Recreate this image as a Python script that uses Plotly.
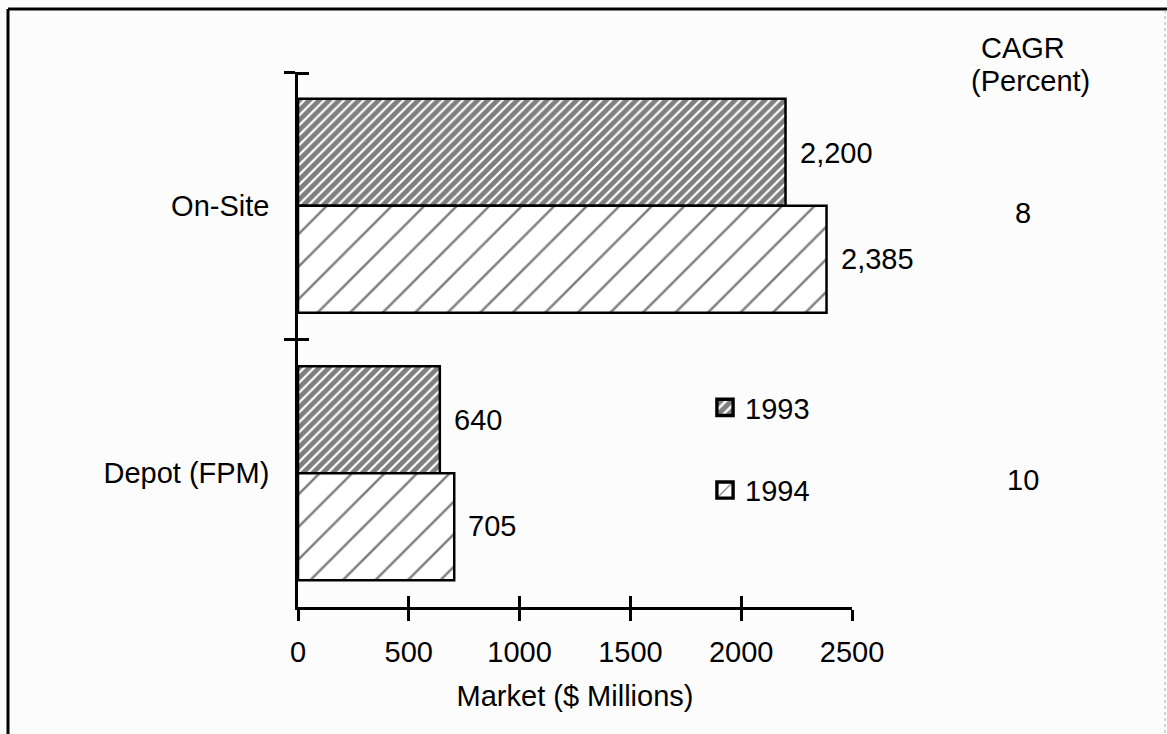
import plotly.graph_objects as go

# ---- data ----
categories = ["On-Site", "Depot (FPM)"]
series_names = ["1993", "1994"]
values_1993 = [2200, 640]
values_1994 = [2385, 705]
cagr = [8, 10]
x_ticks = [0, 500, 1000, 1500, 2000, 2500]
x_title = "Market ($ Millions)"
cagr_title = ["CAGR", "(Percent)"]

# ---- layout helpers (pixel geometry of the plot area) ----
W, H = 1167, 734
L, R, T, B = 298, 852, 72, 607


def px_x(p):
    return (p - L) / (R - L)


def px_y(p):
    return (B - p) / (B - T)


FONT = "Liberation Sans, Arial, Helvetica, sans-serif"
FS = 29
INK = "#000000"
BG = "#fcfcfc"

fig = go.Figure()
fig.add_trace(go.Bar(
    name=series_names[0], y=categories, x=values_1993, orientation="h",
    legendgroup="a",
    marker=dict(color="white", line=dict(color=INK, width=2.5),
                pattern=dict(shape="/", fgcolor=INK, bgcolor="white", size=7, solidity=0.68)),
    hoverinfo="skip",
))
fig.add_trace(go.Bar(
    name=series_names[1], y=categories, x=values_1994, orientation="h",
    legendgroup="b",
    marker=dict(color="white", line=dict(color=INK, width=2.5),
                pattern=dict(shape="/", fgcolor=INK, bgcolor="white", size=23, solidity=0.11)),
    hoverinfo="skip",
))
# carrier for the overlaid axes that draw the inner half of the crossing ticks
fig.add_trace(go.Scatter(x=[None], y=[None], xaxis="x2", yaxis="y2", mode="markers",
                         showlegend=False, hoverinfo="skip"))

annotations = []
for vals, shift in ((values_1993, 53), (values_1994, -53)):
    for cat, v in zip(categories, vals):
        annotations.append(dict(x=v, y=cat, xref="x", yref="y", text=f"{v:,}",
                                showarrow=False, xanchor="left", xshift=12, yshift=shift,
                                font=dict(size=FS, color=INK, family=FONT)))
for cat, c in zip(categories, cagr):
    annotations.append(dict(x=px_x(1023), y=cat, xref="paper", yref="y", text=str(c),
                            showarrow=False, xanchor="center", yshift=-7,
                            font=dict(size=FS, color=INK, family=FONT)))
annotations.append(dict(x=px_x(1023), y=px_y(48), xref="paper", yref="paper", text=cagr_title[0],
                        showarrow=False, xanchor="center", yanchor="middle",
                        font=dict(size=FS, color=INK, family=FONT)))
annotations.append(dict(x=px_x(1030), y=px_y(81), xref="paper", yref="paper", text=cagr_title[1],
                        showarrow=False, xanchor="center", yanchor="middle",
                        font=dict(size=FS, color=INK, family=FONT)))

shapes = [
    dict(type="line", xref="paper", yref="paper", x0=px_x(8), x1=px_x(8), y0=px_y(745), y1=px_y(9),
         line=dict(color=INK, width=3)),
    dict(type="line", xref="paper", yref="paper", x0=px_x(8), x1=px_x(1175), y0=px_y(9), y1=px_y(9),
         line=dict(color=INK, width=3)),
    dict(type="line", xref="paper", yref="paper", x0=px_x(1165), x1=px_x(1165), y0=px_y(745), y1=px_y(9),
         line=dict(color="#aaaaaa", width=1, dash="dot")),
]

axis_common = dict(showgrid=False, zeroline=False, linecolor=INK, tickcolor=INK)

# inner halves of the crossing ticks; nudge the end ticks just inside the range so they are drawn
x_inner_ticks = [min(t, 2497) for t in x_ticks]
y_inner_ticks = [-0.495, 0.5]

fig.update_layout(
    width=W, height=H, autosize=False,
    margin=dict(l=L, r=W - R, t=T, b=H - B, pad=0),
    paper_bgcolor=BG, plot_bgcolor=BG,
    font=dict(family=FONT, size=FS, color=INK),
    barmode="group", bargap=0.2, bargroupgap=0,
    showlegend=True,
    legend=dict(x=px_x(705), y=px_y(382), xanchor="left", yanchor="top",
                bgcolor="rgba(0,0,0,0)", font=dict(size=FS, color=INK, family=FONT),
                traceorder="grouped", tracegroupgap=42),
    xaxis=dict(range=[0, 2500], tickvals=x_ticks, ticktext=[str(t) for t in x_ticks],
               showline=True, linewidth=2.5, ticks="outside", ticklen=11, tickwidth=2.5,
               ticklabelstandoff=6,
               title=dict(text=x_title, standoff=20, font=dict(size=FS, color=INK, family=FONT)),
               tickfont=dict(size=FS, color=INK, family=FONT), **axis_common),
    xaxis2=dict(overlaying="x", anchor="y", side="bottom", range=[0, 2500], tickvals=x_inner_ticks,
                showticklabels=False, showline=False, ticks="inside", ticklen=11, tickwidth=2.5,
                **axis_common),
    yaxis=dict(type="category", categoryorder="array", categoryarray=categories,
               range=[1.5, -0.5], tickson="boundaries",
               showline=True, linewidth=2.5, ticks="outside", ticklen=11, tickwidth=2.5,
               ticklabelstandoff=20,
               tickfont=dict(size=FS, color=INK, family=FONT), **axis_common),
    yaxis2=dict(overlaying="y", anchor="x", side="left", range=[1.5, -0.5],
                tickvals=y_inner_ticks, showticklabels=False, showline=False,
                ticks="inside", ticklen=11, tickwidth=2.5, **axis_common),
    annotations=annotations,
    shapes=shapes,
)

# enlarge the legend swatches to the size used in the reference
post = """
var gd = document.getElementsByClassName('plotly-graph-div')[0];
function grow(){
  gd.querySelectorAll('.legend .legendpoints path').forEach(function(p){
    var t = p.getAttribute('transform') || '';
    if (t.indexOf('scale') < 0) { p.setAttribute('transform', t + ' scale(1.35)'); }
  });
}
grow();
gd.on('plotly_afterplot', grow);
"""

fig.write_html("out.html", config={"displayModeBar": False}, post_script=post)
